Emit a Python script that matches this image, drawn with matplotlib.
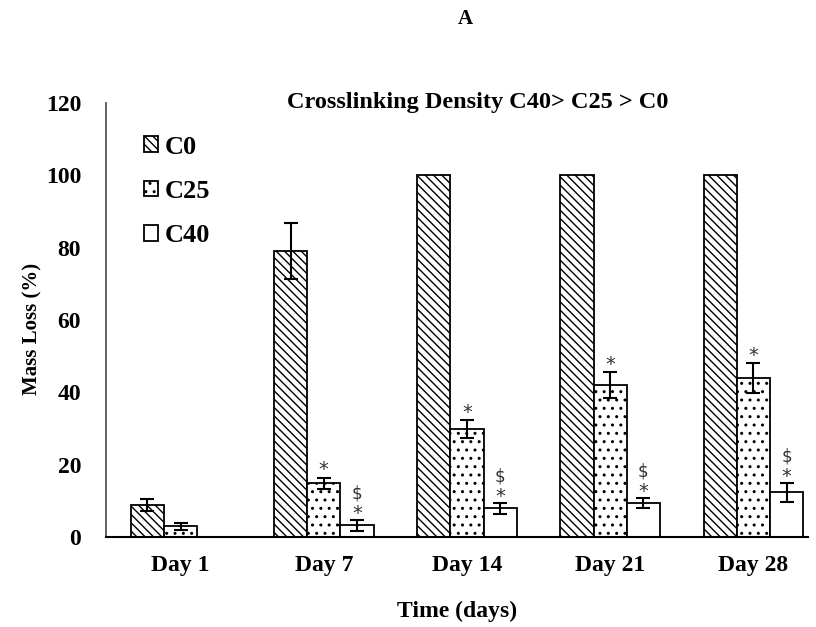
import matplotlib
matplotlib.use("Agg")
import matplotlib.pyplot as plt
import numpy as np

plt.rcParams['font.family'] = ['Liberation Serif', 'DejaVu Serif']
plt.rcParams['hatch.linewidth'] = 1.0

days = ["Day 1", "Day 7", "Day 14", "Day 21", "Day 28"]
series = ["C0", "C25", "C40"]
c0 = [8.8, 79.1, 100, 100, 100]
c0_err = [1.7, 7.7, 0, 0, 0]
c25 = [3.0, 14.9, 29.8, 42.0, 44.0]
c25_err = [1.0, 1.5, 2.5, 3.6, 4.1]
c40 = [0, 3.3, 8.0, 9.4, 12.4]
c40_err = [0, 1.5, 1.5, 1.5, 2.6]
c25_star = [False, True, True, True, True]
c40_star = [False, True, True, True, True]
c40_dollar = [False, True, True, True, True]

fig = plt.figure(figsize=(8.16, 6.27), dpi=100)
ax = fig.add_axes([0.130, 0.1435, 0.860, 0.692])

x = np.arange(len(days))
w = 0.232
hatches = ["\\\\\\\\", "..", ""]
vals = [c0, c25, c40]
errs = [c0_err, c25_err, c40_err]
for i, (v, e, h, name) in enumerate(zip(vals, errs, hatches, series)):
    pos = x + (i - 1) * w
    ax.bar(pos, v, w, color="white", edgecolor="black", linewidth=1.3,
           hatch=h, label=name, zorder=2)
    show = np.array(e) > 0
    ax.errorbar(pos[show], np.array(v)[show], yerr=np.array(e)[show], fmt="none",
                ecolor="black", elinewidth=1.5, capsize=5, capthick=1.5, zorder=3)

# significance markers: * vs C0, $ vs C25
mark_kw = dict(ha="center", va="center", color="#333333", family="DejaVu Sans")
for i in range(len(days)):
    if c25_star[i]:
        ax.text(x[i], c25[i] + c25_err[i] + 2.2, "*", fontsize=14, **mark_kw)
    if c40_star[i]:
        ax.text(x[i] + w, c40[i] + c40_err[i] + 1.8, "*", fontsize=14, **mark_kw)
    if c40_dollar[i]:
        ax.text(x[i] + w, c40[i] + c40_err[i] + 7.2, "$", fontsize=12, **mark_kw)

ax.set_xlim(-0.52, 4.38)
ax.set_ylim(0, 120)
ax.set_yticks(np.arange(0, 121, 20))
ax.set_xticks(x)
ax.set_xticklabels(days)
ax.tick_params(axis="both", length=0, labelsize=17)
ax.tick_params(axis="y", pad=18)
ax.tick_params(axis="x", pad=13)
for lab in ax.get_xticklabels() + ax.get_yticklabels():
    lab.set_fontweight("bold")

for s in ["top", "right"]:
    ax.spines[s].set_visible(False)
ax.spines["left"].set_color("#555555")
ax.spines["left"].set_linewidth(1.3)
ax.spines["bottom"].set_linewidth(1.5)

ax.set_ylabel("Mass Loss (%)", fontsize=15, fontweight="bold")
ax.yaxis.set_label_coords(-0.09, 0.48)
ax.set_xlabel("Time (days)", fontsize=17, fontweight="bold", labelpad=18)

ax.text(0.53, 1.025, "Crosslinking Density C40> C25 > C0", transform=ax.transAxes,
        ha="center", va="top", fontsize=17.5, fontweight="bold")
fig.text(0.57, 0.97, "A", ha="center", va="center", fontsize=15, fontweight="bold")

ax.legend(loc="upper left", bbox_to_anchor=(0.054, 0.925), frameon=False,
          borderpad=0, borderaxespad=0,
          handlelength=0.55, handleheight=0.55, handletextpad=0.25,
          labelspacing=0.8, prop={"size": 19, "weight": "bold"})

fig.savefig("out.png", dpi=100)
